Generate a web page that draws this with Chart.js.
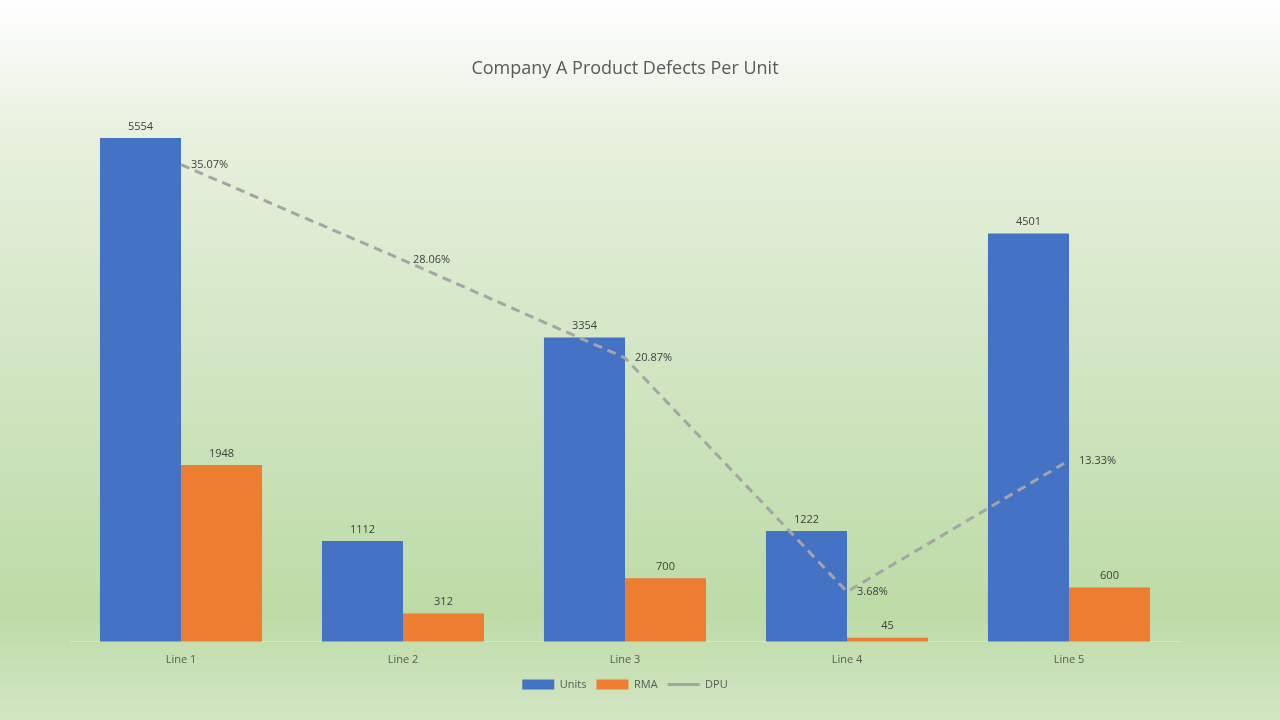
<!DOCTYPE html>
<html>
<head>
<meta charset="utf-8">
<script src="https://cdn.jsdelivr.net/npm/chart.js@4"></script>
<style>
  html, body { margin: 0; padding: 0; }
  #wrap {
    width: 1280px; height: 720px;
    background: linear-gradient(to bottom, #ffffff 0%, #e6f0dc 20%, #cfe4bf 55%, #bddba6 85%, #d3e6c4 100%);
  }
</style>
</head>
<body>
<div id="wrap"><canvas id="chart" width="1280" height="720"></canvas></div>
<script>
// chart data
const categories = ['Line 1', 'Line 2', 'Line 3', 'Line 4', 'Line 5'];
const units = [5554, 1112, 3354, 1222, 4501];
const rma = [1948, 312, 700, 45, 600];
const dpu = [35.07, 28.06, 20.87, 3.68, 13.33];

// simple label plugin: numbers above bars, percentages right of line points
const valueLabels = {
    id: 'valueLabels',
    afterDatasetsDraw(chart) {
        const ctx = chart.ctx;
        ctx.save();
        ctx.font = '11px "Open Sans", sans-serif';
        ctx.fillStyle = '#404040';
        chart.data.datasets.forEach((ds, i) => {
            const meta = chart.getDatasetMeta(i);
            meta.data.forEach((el, j) => {
                if (ds.type === 'line') {
                    ctx.textAlign = 'left';
                    ctx.textBaseline = 'middle';
                    ctx.fillText(ds.data[j].toFixed(2) + '%', el.x + 10, el.y);
                } else {
                    ctx.textAlign = 'center';
                    ctx.textBaseline = 'bottom';
                    ctx.fillText(ds.data[j], el.x, el.y - 6);
                }
            });
        });
        ctx.restore();
    }
};

new Chart(document.getElementById('chart'), {
    data: {
        labels: categories,
        datasets: [
            {
                type: 'line',
                label: 'DPU',
                data: dpu,
                yAxisID: 'y2',
                borderColor: '#a5a5a5',
                borderWidth: 3,
                borderDash: [9, 6],
                pointRadius: 0,
                fill: false,
                pointStyle: 'line',
                order: 0
            },
            {
                type: 'bar',
                label: 'Units',
                data: units,
                yAxisID: 'y',
                backgroundColor: '#4472c4',
                categoryPercentage: 0.73,
                barPercentage: 1,
                pointStyle: 'rect',
                order: 1
            },
            {
                type: 'bar',
                label: 'RMA',
                data: rma,
                yAxisID: 'y',
                backgroundColor: '#ed7d31',
                categoryPercentage: 0.73,
                barPercentage: 1,
                pointStyle: 'rect',
                order: 1
            }
        ]
    },
    options: {
        responsive: false,
        animation: false,
        layout: { padding: { left: 70, right: 100, top: 58, bottom: 20 } },
        plugins: {
            title: {
                display: true,
                text: 'Company A Product Defects Per Unit',
                color: '#595959',
                font: { family: '"Open Sans", sans-serif', size: 18, weight: 'normal' },
                padding: { top: 0, bottom: 18 }
            },
            legend: {
                position: 'bottom',
                reverse: false,
                labels: {
                    usePointStyle: true,
                    pointStyleWidth: 32,
                    boxHeight: 10,
                    color: '#595959',
                    font: { family: '"Open Sans", sans-serif', size: 11 },
                    sort: (a, b) => ['Units', 'RMA', 'DPU'].indexOf(a.text) - ['Units', 'RMA', 'DPU'].indexOf(b.text)
                }
            },
            tooltip: { enabled: false }
        },
        scales: {
            x: {
                grid: { display: false },
                border: { color: '#d9e6cf' },
                ticks: { color: '#595959', font: { family: '"Open Sans", sans-serif', size: 11 } }
            },
            y: { display: false, min: 0, max: 6000 },
            y2: { display: false, min: 0, max: 40, position: 'right' }
        }
    },
    plugins: [valueLabels]
});
</script>
</body>
</html>
